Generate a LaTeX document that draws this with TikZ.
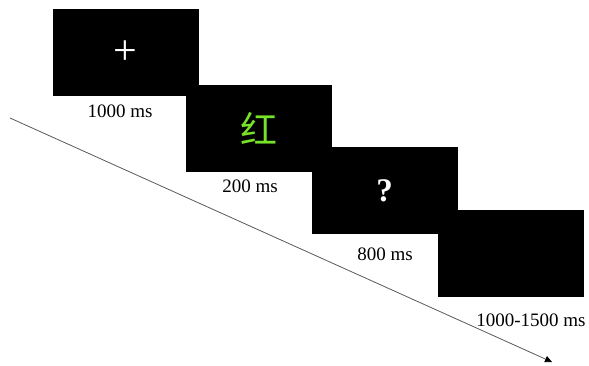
\documentclass[tikz,border=0pt]{standalone}
\usepackage{fontspec}
\setmainfont{Liberation Serif}
\newfontfamily\cjk{Noto Sans CJK SC}
\usetikzlibrary{arrows.meta}
\definecolor{wordgreen}{RGB}{118,226,40}
\begin{document}
\begin{tikzpicture}[
  x=1pt, y=-1pt,
  screen/.style={rectangle, fill=black, minimum width=146pt, minimum height=87pt, inner sep=0pt},
  dur/.style={font=\fontsize{19}{22}\selectfont, inner sep=0pt},
  timeline/.style={draw=black!65, line width=0.8pt, -{Triangle[length=7pt,width=6.5pt,color=black]}}
]
  \useasboundingbox (0,0) rectangle (589,365);

  \node[screen, text=white, font=\fontsize{42}{42}\selectfont] (s1) at (125.5, 52.5) {+};
  \node[screen, text=wordgreen, font=\cjk\fontsize{37}{37}\selectfont] (s2) at (259, 128.5) {红};
  \node[screen, text=white, font=\bfseries\fontsize{33}{33}\selectfont] (s3) at (384.5, 190.5) {?};
  \node[screen] (s4) at (511, 253.5) {};

  \node[dur] (d1) at (120, 111) {1000 ms};
  \node[dur] (d2) at (250, 186) {200 ms};
  \node[dur] (d3) at (385, 254) {800 ms};
  \node[dur] (d4) at (531, 320) {1000-1500 ms};

  \coordinate (t0) at (10, 118);
  \coordinate (t1) at (552, 362);
  \draw[timeline] (t0) -- (t1);
\end{tikzpicture}
\end{document}
